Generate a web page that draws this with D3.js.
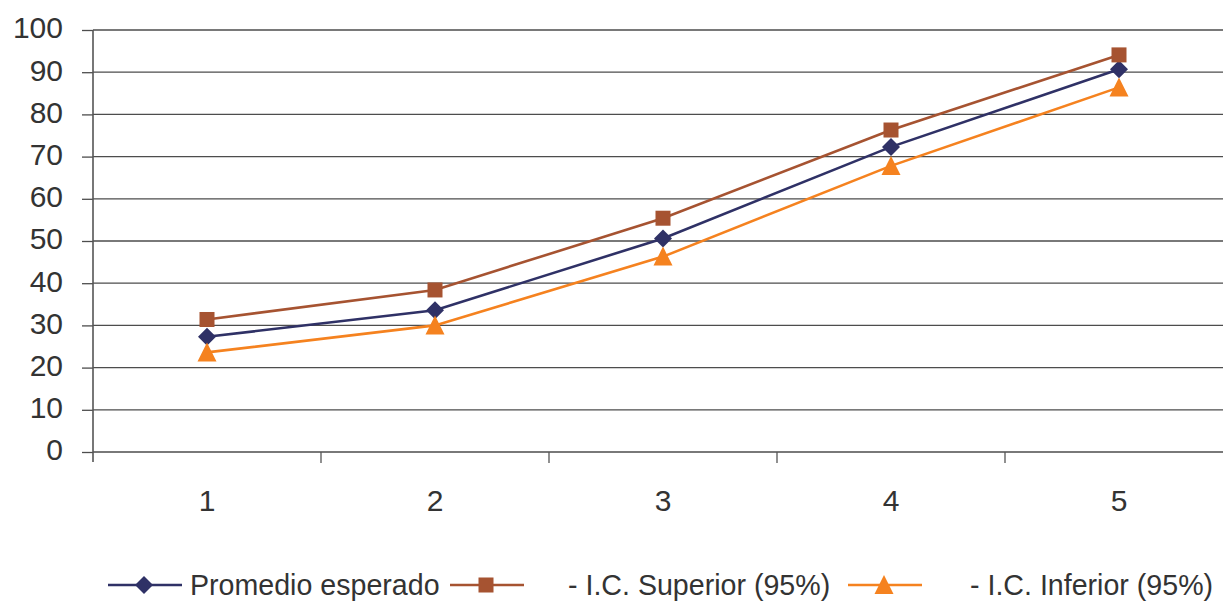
<!DOCTYPE html>
<html><head><meta charset="utf-8">
<script src="https://cdn.jsdelivr.net/npm/d3@7"></script>
<style>
html,body{margin:0;padding:0;background:#fff;}
svg{display:block;font-family:"Liberation Sans",Arial,Helvetica,sans-serif;}
</style></head>
<body>
<script>
const categories = ["1","2","3","4","5"];
const seriesNames = ["Promedio esperado","- I.C. Superior (95%)","- I.C. Inferior (95%)"];
const promedio = [27.3, 33.6, 50.6, 72.3, 90.7];
const superior = [31.4, 38.4, 55.4, 76.3, 94.1];
const inferior = [23.6, 30.0, 46.3, 67.8, 86.4];
const yTicks = [0,10,20,30,40,50,60,70,80,90,100];

const W = 1223, H = 602;
const m = {left: 93, top: 30, right: 1233, bottom: 452};
const svg = d3.select("body").append("svg").attr("width", W).attr("height", H);

const x = d3.scaleBand().domain(categories).range([m.left, m.right]);
const y = d3.scaleLinear().domain([0,100]).range([m.bottom, m.top]);
const FONT = "'Liberation Sans',Arial,sans-serif";

// y axis labels + ticks
const yAx = svg.append("g").attr("transform", `translate(${m.left},0)`)
  .call(d3.axisLeft(y).tickValues(yTicks).tickSize(11).tickPadding(19));
yAx.select(".domain").remove();
yAx.selectAll(".tick line").attr("stroke", "#4d4d4d").attr("stroke-width", 1.3);
yAx.selectAll(".tick text").attr("font-size", 30).attr("fill", "#333").attr("dy", "0.26em")
  .attr("font-family", FONT);
// gridlines
svg.append("g").selectAll("line").data(yTicks).join("line")
  .attr("x1", m.left).attr("x2", m.right)
  .attr("y1", d => y(d)).attr("y2", d => y(d))
  .attr("stroke", "#4d4d4d").attr("stroke-width", 1.3);
svg.append("line").attr("x1", m.left).attr("x2", m.left).attr("y1", m.top).attr("y2", m.bottom + 10)
  .attr("stroke", "#555").attr("stroke-width", 1.6);

// x axis
const xAx = svg.append("g").attr("transform", `translate(0,${m.bottom})`)
  .call(d3.axisBottom(x).tickSize(0).tickPadding(38));
xAx.select(".domain").remove();
xAx.selectAll(".tick text").attr("font-size", 30).attr("fill", "#333").attr("font-family", FONT);
svg.append("g").selectAll("line").data(categories.slice(1)).join("line")
  .attr("x1", d => x(d)).attr("x2", d => x(d))
  .attr("y1", m.bottom).attr("y2", m.bottom + 11)
  .attr("stroke", "#555").attr("stroke-width", 1.3);

const colors = ["#2f3166", "#a65331", "#f5821f"];
const data = [promedio, superior, inferior];

function marker(g, i, cx, cy) {
  if (i === 0) {
    g.append("path").attr("d", `M${cx},${cy-9}L${cx+9},${cy}L${cx},${cy+9}L${cx-9},${cy}Z`).attr("fill", colors[0]);
  } else if (i === 1) {
    g.append("rect").attr("x", cx-7.5).attr("y", cy-7.5).attr("width", 15).attr("height", 15).attr("fill", colors[1]);
  } else {
    g.append("path").attr("d", `M${cx},${cy-10}L${cx+9.5},${cy+9}L${cx-9.5},${cy+9}Z`).attr("fill", colors[2]);
  }
}

const line = d3.line().x((d,i) => x(categories[i]) + x.bandwidth()/2).y(d => y(d));
data.forEach((vals, si) => {
  const g = svg.append("g");
  g.append("path").datum(vals).attr("d", line).attr("fill", "none")
    .attr("stroke", colors[si]).attr("stroke-width", 2.6);
  vals.forEach((v, i) => marker(g, si, x(categories[i]) + x.bandwidth()/2, y(v)));
});

// legend
const legX = [108, 450, 848];
const legTextX = [190, 568, 970];
const ly = 585;
const lg = svg.append("g");
seriesNames.forEach((name, i) => {
  lg.append("line").attr("x1", legX[i]).attr("x2", legX[i] + 74).attr("y1", ly).attr("y2", ly)
    .attr("stroke", colors[i]).attr("stroke-width", 2.6);
  marker(lg, i, legX[i] + 36, ly);
  lg.append("text").attr("x", legTextX[i]).attr("y", ly + 10).attr("font-size", 28.6).attr("fill", "#333")
    .attr("font-family", FONT).text(name);
});
</script>
</body></html>
